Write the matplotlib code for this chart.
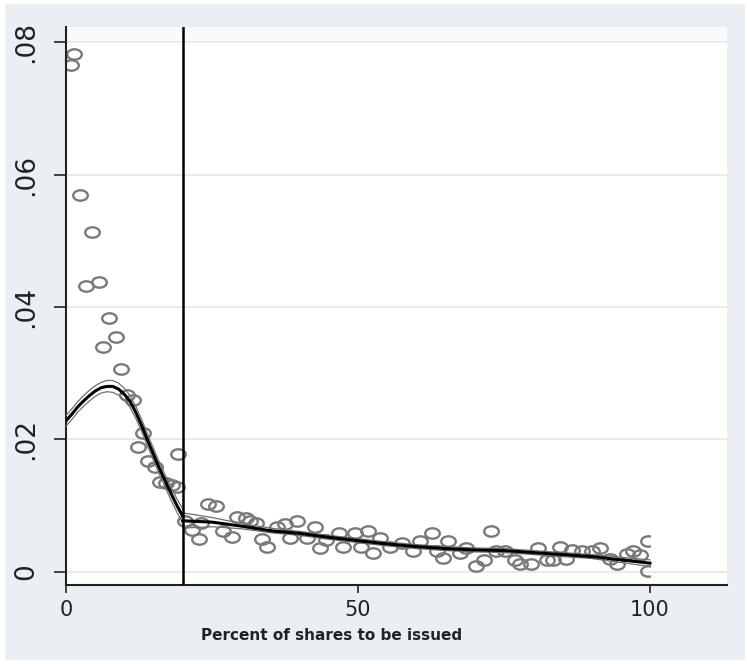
import numpy as np
import matplotlib
matplotlib.use("Agg")
import matplotlib.pyplot as plt
from matplotlib.path import Path
from matplotlib.transforms import Affine2D
from matplotlib.patches import Rectangle

# binned scatter points
pts_x = [0.8, 1.3, 2.4, 3.4, 4.4, 5.6, 6.4, 7.4, 8.6, 9.4, 10.5, 11.5, 12.3, 13.2,
         14.1, 15.2, 16.1, 17.2, 18.2, 19.0, 19.2,
         20.4, 21.5, 22.7, 23.2, 24.4, 25.7, 26.9, 28.4, 29.2, 30.8, 31.5, 32.6,
         33.5, 34.5, 36.1, 37.5, 38.4, 39.5, 41.2, 42.6, 43.5, 44.6, 46.8, 47.4,
         49.5, 50.6, 51.8, 52.5, 53.8, 55.5, 57.5, 59.5, 60.6, 62.6, 63.5, 64.6,
         65.5, 67.5, 68.5, 70.3, 71.5, 72.7, 73.7, 75.2, 76.9, 77.7, 79.7, 80.9,
         82.3, 83.4, 84.6, 85.7, 86.6, 88.3, 90.0, 91.4, 93.2, 94.3, 96.0, 97.1,
         98.3, 99.6, 99.7]
pts_y = [0.0765, 0.0782, 0.0569, 0.0432, 0.0514, 0.0438, 0.0339, 0.0383, 0.0355,
         0.0306, 0.0267, 0.0259, 0.0188, 0.0210, 0.0167, 0.0159, 0.0136, 0.0134,
         0.0131, 0.0128, 0.0178,
         0.0076, 0.0063, 0.0049, 0.0073, 0.0103, 0.0100, 0.0061, 0.0053, 0.0083,
         0.0081, 0.0076, 0.0073, 0.0049, 0.0038, 0.0068, 0.0072, 0.0051, 0.0076,
         0.0051, 0.0068, 0.0036, 0.0048, 0.0058, 0.0038, 0.0058, 0.0038, 0.0062,
         0.0028, 0.0051, 0.0038, 0.0043, 0.0031, 0.0046, 0.0058, 0.0031, 0.0021,
         0.0047, 0.0028, 0.0036, 0.0009, 0.0018, 0.0061, 0.0031, 0.0031, 0.0018,
         0.0011, 0.0011, 0.0036, 0.0018, 0.0018, 0.0038, 0.0020, 0.0033, 0.0031,
         0.0031, 0.0036, 0.0019, 0.0011, 0.0027, 0.0031, 0.0026, 0.0046, 0.0001]

# fitted curve below the cutoff and its confidence band
left_x = [0, 1, 2, 3, 4, 5, 6, 7, 8, 9, 10, 11, 12, 13, 14, 15, 16, 17, 18, 19, 20]
left_y = [0.0228, 0.0238, 0.0249, 0.0258, 0.0266, 0.0273, 0.0278, 0.0280, 0.0280,
          0.0276, 0.0268, 0.0257, 0.0240, 0.0220, 0.0198, 0.0177, 0.0156, 0.0137,
          0.0118, 0.0100, 0.0084]
left_hi = [0.0236, 0.0246, 0.0257, 0.0266, 0.0274, 0.0281, 0.0286, 0.0289, 0.0289,
           0.0285, 0.0277, 0.0266, 0.0249, 0.0229, 0.0207, 0.0186, 0.0165, 0.0146,
           0.0128, 0.0110, 0.0095]
left_lo = [0.0220, 0.0230, 0.0241, 0.0250, 0.0258, 0.0265, 0.0270, 0.0272, 0.0271,
           0.0267, 0.0259, 0.0248, 0.0231, 0.0211, 0.0189, 0.0168, 0.0147, 0.0128,
           0.0108, 0.0090, 0.0073]

# fitted curve above the cutoff and its confidence band
right_x = [20, 25, 30, 35, 40, 45, 50, 55, 60, 65, 70, 75, 80, 85, 90, 95, 100]
right_y = [0.0077, 0.0075, 0.0069, 0.0062, 0.0058, 0.0052, 0.0047, 0.0042, 0.0038,
           0.0035, 0.0033, 0.0032, 0.0029, 0.0026, 0.0023, 0.0018, 0.0013]
right_hi = [0.0089, 0.0082, 0.0073, 0.0066, 0.0061, 0.0055, 0.0050, 0.0045, 0.0041,
            0.0038, 0.0036, 0.0035, 0.0032, 0.0029, 0.0026, 0.0022, 0.0018]
right_lo = [0.0066, 0.0068, 0.0065, 0.0059, 0.0055, 0.0049, 0.0044, 0.0039, 0.0035,
            0.0032, 0.0030, 0.0029, 0.0026, 0.0023, 0.0020, 0.0014, 0.0008]

cutoff = 20
yticks = [0, 0.02, 0.04, 0.06, 0.08]
ytick_labels = ["0", ".02", ".04", ".06", ".08"]
xticks = [0, 50, 100]
xlabel = "Percent of shares to be issued"

W, H = 747, 664
fig = plt.figure(figsize=(W / 100, H / 100), dpi=100)
fig.patch.set_facecolor("white")
fig.add_artist(Rectangle((5 / W, 4 / H), 740 / W, 656 / H, transform=fig.transFigure,
                         facecolor="#e9eff3", edgecolor="none", zorder=-1))

ax = fig.add_axes([66 / W, 1 - 585 / H, (727 - 66) / W, (585 - 27) / H])
ax.set_facecolor("white")
ax.set_xlim(0, 113.2)
ax.set_ylim(-0.002, 0.0823)
ax.axhspan(0.08, 0.0823, color="#f8fafb", lw=0, zorder=0)

for t in yticks:
    ax.axhline(t, color="#e6e8ea", lw=1.2, zorder=1)

# slightly wide hollow ellipse marker, like the stretched original
ell = Path.unit_circle().transformed(Affine2D().scale(1.4, 1.0))
pts, = ax.plot(pts_x, pts_y, linestyle="none", marker=ell, markersize=10.5,
               mfc="none", mec="#7a7a7a", mew=1.7, zorder=2)
pts.set_clip_path(Rectangle((0, -1), 100, 2, transform=ax.transData))

ax.plot(left_x, left_hi, color="#707070", lw=0.9, zorder=3)
ax.plot(left_x, left_lo, color="#707070", lw=0.9, zorder=3)
ax.plot(right_x, right_hi, color="#707070", lw=0.9, zorder=3)
ax.plot(right_x, right_lo, color="#707070", lw=0.9, zorder=3)
ax.plot(left_x, left_y, color="black", lw=2.2, zorder=4)
ax.plot(right_x, right_y, color="black", lw=2.2, zorder=4)

ax.axvline(cutoff, color="black", lw=1.8, zorder=5)

for s in ["top", "right"]:
    ax.spines[s].set_visible(False)
for s in ["left", "bottom"]:
    ax.spines[s].set_linewidth(1.5)
    ax.spines[s].set_color("#222222")

ax.set_yticks(yticks)
ax.set_yticklabels(ytick_labels, rotation=90, va="center", fontsize=19)
ax.set_xticks(xticks)
ax.set_xticklabels([str(t) for t in xticks], fontsize=15)
ax.tick_params(axis="y", length=9, width=1.2, pad=10, colors="#222222")
ax.tick_params(axis="x", length=6, width=1.2, pad=5, colors="#222222")

fig.text(332 / W, 1 - 635 / H, xlabel, ha="center", va="center",
         fontsize=11, fontweight="bold", color="#222222")

fig.savefig("out.png", dpi=100, facecolor=fig.get_facecolor())
